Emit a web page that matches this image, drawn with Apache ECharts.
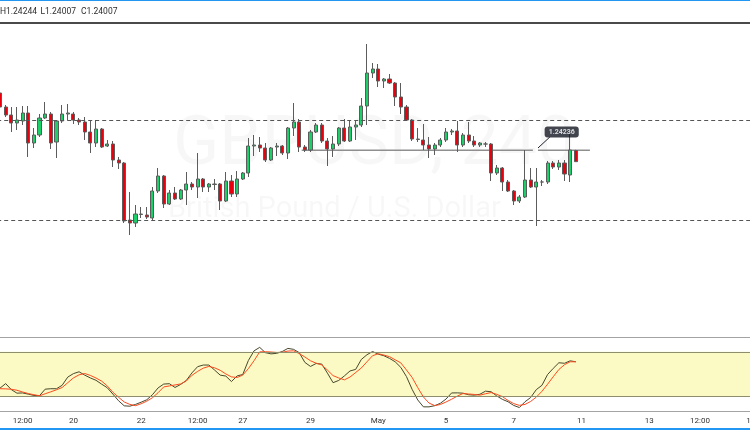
<!DOCTYPE html>
<html><head><meta charset="utf-8">
<script src="https://cdn.jsdelivr.net/npm/echarts@6/dist/echarts.min.js"></script>
<style>html,body{margin:0;padding:0;background:#fff;overflow:hidden}#c{width:750px;height:430px}</style>
</head><body><div id="c"></div>
<script>
// ---- data (GBPUSD 4H) ----
const opens = [1.2538,1.2510,1.2494,1.2478,1.2482,1.2498,1.2438,1.2454,1.2488,1.2496,
1.2440,1.2482,1.2496,1.2496,1.2484,1.2480,1.2460,1.2438,1.2466,1.2432,
1.2436,1.2404,1.2398,1.2284,1.2278,1.2295,1.2294,1.2288,1.2342,1.2372,
1.2316,1.2338,1.2326,1.2344,1.2356,1.2350,1.2366,1.2350,1.2355,1.2356,
1.2322,1.2362,1.2336,1.2366,1.2378,1.2432,1.2434,1.2428,1.2404,1.2430,
1.2432,1.2418,1.2468,1.2480,1.2430,1.2424,1.2460,1.2474,1.2442,1.2426,
1.2436,1.2468,1.2442,1.2470,1.2474,1.2512,1.2578,1.2586,1.2562,1.2566,
1.2558,1.2530,1.2510,1.2484,1.2446,1.2444,1.2434,1.2426,1.2434,1.2444,
1.2460,1.2462,1.2434,1.2454,1.2442,1.2434,1.2436,1.2436,1.2378,1.2388,
1.2360,1.2342,1.2322,1.2330,1.2364,1.2350,1.2360,1.2360,1.2398,1.2390,
1.2398,1.2374,1.2423];
const closes = [1.2510,1.2494,1.2478,1.2484,1.2498,1.2438,1.2454,1.2488,1.2496,1.2438,
1.2482,1.2496,1.2498,1.2484,1.2480,1.2460,1.2438,1.2466,1.2430,1.2436,
1.2404,1.2398,1.2282,1.2278,1.2296,1.2296,1.2290,1.2342,1.2372,1.2316,
1.2338,1.2326,1.2344,1.2356,1.2350,1.2366,1.2350,1.2356,1.2356,1.2322,
1.2362,1.2336,1.2366,1.2378,1.2432,1.2434,1.2428,1.2404,1.2428,1.2432,
1.2418,1.2468,1.2480,1.2430,1.2424,1.2460,1.2474,1.2442,1.2426,1.2436,
1.2468,1.2442,1.2470,1.2474,1.2512,1.2578,1.2586,1.2562,1.2566,1.2558,
1.2530,1.2510,1.2484,1.2446,1.2445,1.2434,1.2426,1.2434,1.2444,1.2460,
1.2462,1.2434,1.2454,1.2442,1.2434,1.2438,1.2436,1.2378,1.2388,1.2360,
1.2342,1.2322,1.2330,1.2364,1.2350,1.2360,1.2360,1.2398,1.2390,1.2398,
1.2376,1.2424,1.24007];
const lows = [1.2508,1.2490,1.2460,1.2464,1.2474,1.2410,1.2428,1.2450,1.2486,1.2426,
1.2408,1.2478,1.2484,1.2476,1.2474,1.2444,1.2418,1.2430,1.2428,1.2430,
1.2390,1.2386,1.2278,1.2254,1.2270,1.2288,1.2286,1.2284,1.2338,1.2308,
1.2314,1.2324,1.2324,1.2314,1.2344,1.2328,1.2340,1.2340,1.2344,1.2304,
1.2320,1.2330,1.2330,1.2364,1.2370,1.2412,1.2420,1.2400,1.2402,1.2412,
1.2414,1.2406,1.2452,1.2420,1.2420,1.2420,1.2458,1.2438,1.2392,1.2410,
1.2432,1.2440,1.2440,1.2444,1.2470,1.2474,1.2568,1.2550,1.2548,1.2556,
1.2512,1.2496,1.2482,1.2442,1.2440,1.2424,1.2408,1.2414,1.2430,1.2440,
1.2454,1.2420,1.2430,1.2438,1.2430,1.2430,1.2430,1.2362,1.2374,1.2342,
1.2340,1.2314,1.2318,1.2328,1.2348,1.2272,1.2352,1.2356,1.2386,1.2384,
1.2362,1.2360,1.24007];
const highs = [1.2574,1.2514,1.2510,1.2510,1.2512,1.2512,1.2468,1.2496,1.2520,1.2500,
1.2484,1.2514,1.2516,1.2500,1.2488,1.2490,1.2484,1.2484,1.2468,1.2444,
1.2442,1.2410,1.2400,1.2340,1.2314,1.2310,1.2310,1.2350,1.2388,1.2374,
1.2344,1.2350,1.2346,1.2380,1.2360,1.2418,1.2368,1.2358,1.2366,1.2358,
1.2380,1.2374,1.2382,1.2380,1.2448,1.2454,1.2450,1.2438,1.2430,1.2438,
1.2434,1.2470,1.2518,1.2486,1.2434,1.2464,1.2478,1.2478,1.2448,1.2452,
1.2470,1.2486,1.2484,1.2484,1.2528,1.2636,1.2598,1.2596,1.2568,1.2576,
1.2560,1.2558,1.2514,1.2486,1.2468,1.2476,1.2450,1.2438,1.2448,1.2468,
1.2466,1.2482,1.2458,1.2480,1.2452,1.2440,1.2440,1.2438,1.2394,1.2390,
1.2364,1.2344,1.2334,1.2424,1.2388,1.2388,1.2364,1.2402,1.2402,1.2404,
1.2404,1.2460,1.24244];
const stochK = [30.9,37.0,28.9,24.1,24.4,22.8,21.0,20.7,29.5,30.1,
30.1,34.7,45.8,50.5,53.0,48.5,44.7,41.5,36.3,31.4,
22.8,13.8,7.0,6.5,8.9,11.9,15.2,22.0,31.2,36.4,
36.9,31.8,35.9,41.3,51.5,59.9,62.1,62.1,55.4,48.5,
47.2,39.8,47.4,49.3,68.3,81.3,86.0,78.9,77.2,77.9,
80.4,84.6,83.3,78.9,65.7,60.2,64.2,63.4,51.2,38.3,
41.3,47.4,54.1,56.2,69.6,76.0,80.4,76.8,74.7,71.1,
66.5,58.9,46.5,29.3,14.9,5.6,5.6,7.2,10.4,16.1,
24.4,24.5,24.1,22.0,21.4,22.6,26.8,26.0,20.3,15.7,
12.5,7.5,4.7,12.5,18.2,28.9,34.7,49.3,57.6,65.2,
64.5,67.8,66.5];
const stochD = [30.1,29.9,29.4,28.0,25.7,23.6,22.0,20.6,23.3,25.9,
28.7,31.7,38.2,44.7,48.9,50.7,48.1,44.6,40.4,33.9,
25.3,18.6,12.2,8.9,7.2,9.8,13.3,17.9,24.7,32.5,
33.9,35.2,36.6,40.5,48.2,53.5,57.9,60.2,58.4,55.0,
50.1,46.1,45.3,48.5,57.3,68.0,79.9,80.1,79.7,79.1,
79.3,81.0,81.3,77.6,73.0,67.9,64.6,62.2,55.3,47.8,
44.7,42.1,45.9,52.0,58.1,66.5,74.7,77.4,75.6,73.4,
69.2,65.0,55.4,45.4,31.6,19.0,10.7,7.3,8.8,12.1,
15.9,20.1,23.6,23.0,22.4,21.4,23.3,24.9,22.5,19.4,
14.2,10.0,7.6,8.9,12.9,18.8,26.6,36.2,46.3,56.1,
62.6,66.5,66.5];
const tickSlots  = [4, 13, 25, 35, 43, 55, 67, 79, 91, 103, 115, 124, 133];
const tickLabels = ['12:00','20','22','12:00','27','29','May','5','7','11','13','12:00','15'];
const dashedLevels = [1.2484, 1.2284];
const levelPrice = 1.24236;
const levelSpan = [53.44, 94.4, 95.3, 104.5];
const calloutTail = [[95.3, 1.2428], [97.4, 1.2450]];
const calloutAnchor = [99.5, 1.2460];
const stochBands = [20, 80];
const totalSlots = 136;

// ---- layout ----
const L = -2.8, SLOT = 5.645, W = totalSlots * SLOT;
const slots = Array.from({length: totalSlots}, (_, i) => String(i));
const labelMap = {};
tickSlots.forEach((s, i) => { labelMap[s] = tickLabels[i]; });
const candles = opens.map((o, i) => [o, closes[i], lows[i], highs[i]]);
const last = candles.length - 1;
const FONT = 'Roboto, "Open Sans", sans-serif';

const chart = echarts.init(document.getElementById('c'), null, {renderer: 'canvas'});
chart.setOption({
  animation: false,
  backgroundColor: '#ffffff',
  grid: [
    {left: L, top: 24, width: W, height: 313, containLabel: false, outerBoundsMode: 'none'},
    {left: L, top: 337, width: W, height: 74, containLabel: false, outerBoundsMode: 'none'}
  ],
  xAxis: [
    {type: 'category', gridIndex: 0, data: slots, boundaryGap: true,
     axisLine: {show: true, lineStyle: {color: '#a3a3a3', width: 1}},
     axisTick: {show: false}, axisLabel: {show: false}, splitLine: {show: false}},
    {type: 'category', gridIndex: 1, data: slots, boundaryGap: true,
     axisLine: {show: true, lineStyle: {color: '#a3a3a3', width: 1}},
     axisTick: {show: false}, splitLine: {show: false},
     axisLabel: {show: true, interval: 0, margin: 6, fontSize: 8, color: '#333', fontFamily: FONT,
       formatter: (v, i) => labelMap[i] || ''}},
    {type: 'value', gridIndex: 0, min: -0.5, max: totalSlots - 0.5, show: false}
  ],
  yAxis: [
    {type: 'value', gridIndex: 0, min: 1.2050, max: 1.2676, show: false, splitLine: {show: false}},
    {type: 'value', gridIndex: 1, min: 0, max: 100, show: false, splitLine: {show: false}}
  ],
  series: [
    {type: 'candlestick', xAxisIndex: 0, yAxisIndex: 0, data: candles, barWidth: 3.6, z: 3,
     itemStyle: {color: '#1ccf68', color0: '#e8000d', borderColor: '#5c5c5c', borderColor0: '#5c5c5c', borderWidth: 1}},
    {type: 'line', xAxisIndex: 2, yAxisIndex: 0, symbol: 'none', z: 2, connectNulls: false,
     lineStyle: {color: '#8f8f8f', width: 1.5},
     data: [[levelSpan[0], levelPrice], [levelSpan[1], levelPrice], [(levelSpan[1] + levelSpan[2]) / 2, '-'],
            [levelSpan[2], levelPrice], [levelSpan[3], levelPrice]],
     markLine: {silent: true, precision: 5, symbol: ['none', 'none'], label: {show: false},
       lineStyle: {color: '#555', type: [4, 3], width: 1},
       data: dashedLevels.map(v => ({yAxis: v}))}},
    {type: 'line', xAxisIndex: 2, yAxisIndex: 0, symbol: 'none', z: 4,
     lineStyle: {color: '#1e222d', width: 1}, data: calloutTail},
    {type: 'scatter', xAxisIndex: 2, yAxisIndex: 0, symbolSize: 2, z: 5,
     itemStyle: {color: 'rgba(0,0,0,0)'}, data: [calloutAnchor],
     label: {show: true, position: 'inside', formatter: () => levelPrice.toFixed(5),
       backgroundColor: '#131722', color: '#fff', fontSize: 7, fontWeight: 'bold', fontFamily: FONT,
       padding: [2, 4], borderRadius: 3}},
    {type: 'line', xAxisIndex: 1, yAxisIndex: 1, data: stochK, symbol: 'none', z: 3,
     lineStyle: {color: '#47472c', width: 1},
     markArea: {silent: true, itemStyle: {color: '#fbfac4'},
       data: [[{yAxis: stochBands[0]}, {yAxis: stochBands[1]}]]},
     markLine: {silent: true, precision: 5, symbol: ['none', 'none'], label: {show: false},
       lineStyle: {color: '#8e8e6e', type: 'solid', width: 1},
       data: stochBands.map(v => ({yAxis: v}))}},
    {type: 'line', xAxisIndex: 1, yAxisIndex: 1, data: stochD, symbol: 'none', z: 4,
     lineStyle: {color: '#ff4a1f', width: 1}}
  ],
  graphic: [
    {type: 'text', z: -10, silent: true, style: {x: 173, y: 147, text: 'GBPUSD, 240', font: '68px ' + FONT, fill: 'rgba(0,0,0,0.032)', textVerticalAlign: 'middle'}},
    {type: 'text', z: -10, silent: true, style: {x: 168, y: 210, text: 'British Pound / U.S. Dollar', font: '29px ' + FONT, fill: 'rgba(0,0,0,0.032)', textVerticalAlign: 'middle'}},
    {type: 'rect', z: 10, shape: {x: 0, y: 0, width: 750, height: 1}, style: {fill: '#2196f3'}},
    {type: 'text', z: 10, style: {x: 0, y: 12, text: 'H' + highs[last].toFixed(5), font: '8.5px ' + FONT, fill: '#2e2e2e', textVerticalAlign: 'middle'}},
    {type: 'text', z: 10, style: {x: 40.5, y: 12, text: 'L' + lows[last].toFixed(5), font: '8.5px ' + FONT, fill: '#2e2e2e', textVerticalAlign: 'middle'}},
    {type: 'text', z: 10, style: {x: 81, y: 12, text: 'C' + closes[last].toFixed(5), font: '8.5px ' + FONT, fill: '#2e2e2e', textVerticalAlign: 'middle'}},
    {type: 'rect', z: 10, shape: {x: 0, y: 22, width: 750, height: 2}, style: {fill: '#4a4a4a'}},
    {type: 'rect', z: 10, shape: {x: 0, y: 428, width: 750, height: 2}, style: {fill: '#2196f3'}}
  ]
});
</script>
</body></html>
